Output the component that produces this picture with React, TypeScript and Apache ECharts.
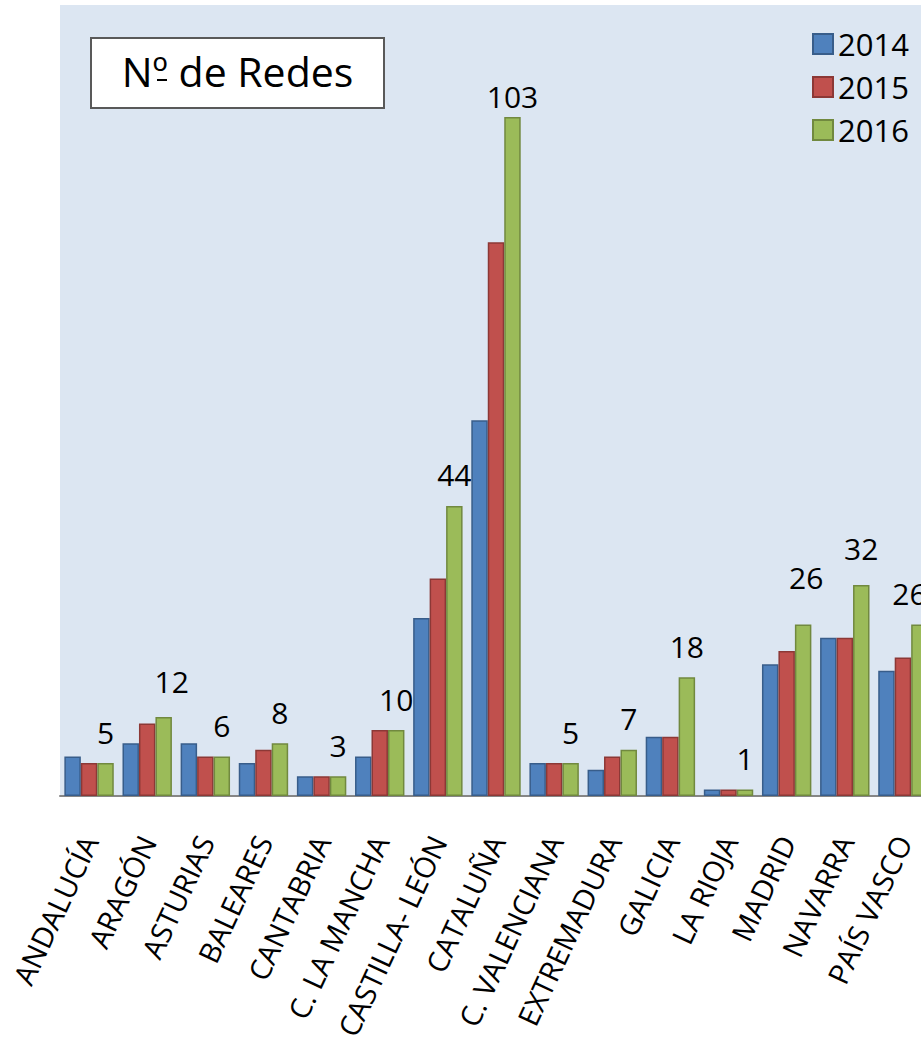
import React, { useEffect, useRef } from "react";
import * as echarts from "echarts";

const categories = [
  "ANDALUCÍA",
  "ARAGÓN",
  "ASTURIAS",
  "BALEARES",
  "CANTABRIA",
  "C. LA MANCHA",
  "CASTILLA- LEÓN",
  "CATALUÑA",
  "C. VALENCIANA",
  "EXTREMADURA",
  "GALICIA",
  "LA RIOJA",
  "MADRID",
  "NAVARRA",
  "PAÍS VASCO",
];

const values2014 = [6, 8, 8, 5, 3, 6, 27, 57, 5, 4, 9, 1, 20, 24, 19];
const values2015 = [5, 11, 6, 7, 3, 10, 33, 84, 5, 6, 9, 1, 22, 24, 21];
const values2016 = [5, 12, 6, 8, 3, 10, 44, 103, 5, 7, 18, 1, 26, 32, 26];

const seriesNames = ["2014", "2015", "2016"];
const title = "Nº de Redes";

const FONT = "'Open Sans', 'Noto Sans', sans-serif";

// manual label nudges (as in the original, hand-placed labels)
const labelNudge: Record<string, [number, number]> = {
  "ARAGÓN": [8, -4],
  "CATALUÑA": [0, 10],
  "MADRID": [3, -16],
  "NAVARRA": [0, -6],
  "PAÍS VASCO": [-10, 0],
};

export default function App() {
  const ref = useRef<HTMLDivElement>(null);

  useEffect(() => {
    if (!ref.current) return;
    const chart = echarts.init(ref.current, undefined, { renderer: "svg" });

    const colors = [
      { fill: "#4f81bd", border: "#385d8a" },
      { fill: "#c0504d", border: "#8c3836" },
      { fill: "#9bbb59", border: "#71893f" },
    ];
    const allValues = [values2014, values2015, values2016];

    const series = allValues.map((vals, i) => ({
      name: seriesNames[i],
      type: "bar",
      barGap: "0%",
      barCategoryGap: "15%",
      itemStyle: {
        color: colors[i].fill,
        borderColor: colors[i].border,
        borderWidth: 1.5,
      },
      data:
        i === 2
          ? vals.map((v, k) => {
              const n = labelNudge[categories[k]];
              return n ? { value: v, label: { offset: n } } : v;
            })
          : vals,
      label:
        i === 2
          ? {
              show: true,
              position: "top",
              distance: 16,
              fontSize: 30,
              fontFamily: FONT,
              color: "#000",
            }
          : { show: false },
    }));

    chart.setOption({
      animation: false,
      grid: {
        left: 60,
        top: 5,
        right: 0,
        bottom: 246,
        show: true,
        backgroundColor: "#dce6f2",
        borderWidth: 0,
        containLabel: false,
        outerBoundsMode: "none",
      },
      legend: {
        orient: "vertical",
        left: 807,
        top: 22,
        itemWidth: 20,
        itemHeight: 20,
        itemGap: 9,
        icon: "rect",
        data: seriesNames,
        textStyle: {
          fontSize: 31,
          fontFamily: FONT,
          color: "#000",
          lineHeight: 34,
        },
      },
      xAxis: {
        type: "category",
        data: categories,
        axisLine: { lineStyle: { color: "#868686", width: 2 } },
        axisTick: { show: false },
        axisLabel: {
          rotate: 65,
          interval: 0,
          margin: 41,
          fontSize: 29,
          fontFamily: FONT,
          color: "#000",
        },
      },
      yAxis: {
        type: "value",
        min: 0,
        max: 120,
        show: false,
        splitLine: { show: false },
      },
      graphic: [
        {
          type: "group",
          left: 90,
          top: 37,
          children: [
            {
              type: "rect",
              shape: { x: 0, y: 0, width: 293, height: 70 },
              style: { fill: "#ffffff", stroke: "#595959", lineWidth: 2 },
            },
            {
              type: "text",
              x: 146.5,
              y: 33,
              style: {
                text: title,
                fontSize: 41,
                fontFamily: FONT,
                fill: "#000",
                align: "center",
                verticalAlign: "middle",
              },
            },
            {
              type: "line",
              shape: { x1: 66, y1: 42, x2: 76, y2: 42 },
              style: { stroke: "#000", lineWidth: 2 },
            },
          ],
        },
      ],
      series,
    });

    return () => chart.dispose();
  }, []);

  return (
    <div
      style={{
        position: "fixed",
        left: 0,
        top: 0,
        width: 921,
        height: 1042,
        overflow: "hidden",
        background: "#fff",
      }}
    >
      <div ref={ref} style={{ width: 932, height: 1042 }} />
    </div>
  );
}
